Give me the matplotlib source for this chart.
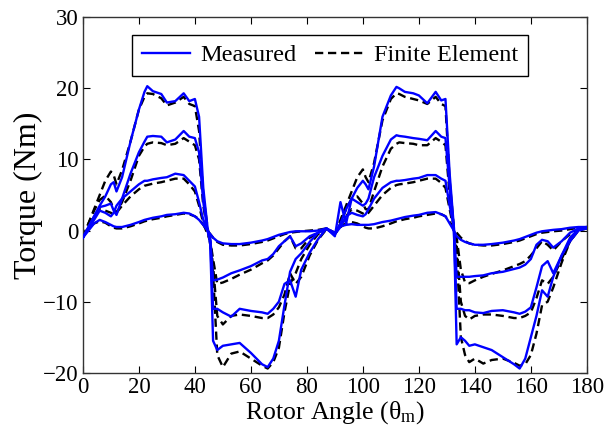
import matplotlib
matplotlib.use("Agg")
from matplotlib import pyplot as plt

# rotor angle grid (deg), two electrical periods
theta = [0, 2, 4, 6, 8, 10, 11, 12, 14, 17, 20, 22, 23, 25, 28, 30, 33, 36, 38, 40,
         41.5, 43, 44.5, 45.5, 46.5, 48, 50, 53, 56, 60, 64, 66, 68, 70, 72, 74, 76, 78, 81, 84, 87,
         90, 92, 94, 96, 98, 100, 101, 102, 104, 107, 110, 112, 113, 115, 118, 120, 123, 126, 128,
         129.5, 131, 132.5, 133.5, 135, 136.5, 138, 140, 143, 146, 150, 154, 156, 158, 160, 162,
         164, 166, 168, 171, 174, 177, 180]

# measured torque (Nm), largest to smallest current
meas_a = [-1.0, 0.5, 2.0, 3.5, 4.8, 6.5, 6.8, 5.5, 7.5, 12.5, 17.0, 19.5, 20.3, 19.6, 19.2, 18.0, 18.2, 19.3, 18.2, 18.5,
          16.0, 6.0, 0.5, -2.0, -15.5, -16.8, -16.2, -16.0, -15.8, -17.2, -18.8, -19.2, -18.0, -15.5, -10.5, -5.8, -4.0, -3.2, -1.6, -0.3, 0.3,
          -0.5, 1.0, 3.0, 4.5, 6.0, 7.0, 6.5, 5.8, 9.0, 16.0, 19.0, 20.2, 20.0, 19.5, 19.3, 19.0, 17.9, 19.5, 18.3,
          18.5, 8.0, 0.5, -16.0, -15.0, -15.5, -16.2, -16.0, -16.4, -16.8, -17.8, -18.8, -19.4, -18.0, -15.0, -12.0,
          -8.4, -9.3, -6.5, -3.5, -1.0, 0.2, 0.5]
meas_b = [-1.0, 0.5, 2.0, 3.3, 3.5, 3.8, 2.8, 2.2, 4.5, 8.0, 11.0, 12.5, 13.2, 13.3, 13.2, 12.4, 12.8, 14.0, 13.2, 13.0,
          11.0, 4.0, 0.0, -1.5, -11.0, -11.0, -11.5, -12.1, -11.0, -11.3, -11.5, -11.7, -11.0, -10.0, -7.5, -7.0, -9.3, -5.5, -3.1, -1.2, 0.3,
          -0.8, 4.0, 1.0, 4.5, 4.0, 3.5, 3.8, 4.5, 7.5, 10.5, 12.8, 13.4, 13.3, 13.2, 13.0, 12.9, 12.7, 14.0, 13.2,
          13.0, 6.0, 0.0, -11.0, -11.0, -11.2, -11.2, -11.5, -11.6, -11.3, -11.2, -11.5, -11.7, -11.4, -10.8, -8.0,
          -5.0, -4.3, -6.0, -3.5, -1.5, 0.0, 0.3]
meas_c = [-1.0, 0.3, 1.5, 2.8, 2.5, 2.0, 2.5, 3.5, 4.5, 5.5, 6.5, 7.0, 7.0, 7.2, 7.4, 7.5, 8.0, 7.8, 7.0, 6.2,
          4.0, 1.5, 0.0, -1.0, -7.0, -6.9, -6.6, -6.0, -5.6, -5.0, -4.2, -4.0, -3.3, -2.2, -1.5, -0.8, -2.2, -1.8, -0.8, -0.3, 0.2,
          -0.5, 0.5, 2.0, 2.5, 2.2, 2.0, 2.3, 3.0, 4.5, 6.0, 6.8, 7.0, 7.0, 7.1, 7.3, 7.4, 7.8, 7.8, 7.3,
          7.0, 3.5, 0.5, -6.5, -6.5, -6.5, -6.5, -6.4, -6.3, -6.0, -5.8, -5.4, -5.2, -4.8, -4.0, -2.0,
          -1.3, -1.5, -2.4, -1.5, -0.3, 0.3, 0.3]
meas_d = [-1.0, 0.0, 1.0, 1.5, 1.2, 0.8, 0.6, 0.5, 0.5, 0.8, 1.2, 1.5, 1.6, 1.8, 2.0, 2.2, 2.3, 2.5, 2.4, 2.0,
          1.5, 0.8, 0.0, -0.5, -1.0, -1.5, -1.8, -1.9, -1.9, -1.7, -1.4, -1.2, -0.9, -0.6, -0.4, -0.2, -0.1, -0.1, -0.1, 0.0, 0.3,
          -0.3, 0.6, 0.8, 0.9, 0.8, 0.8, 0.8, 0.8, 0.9, 1.2, 1.4, 1.6, 1.7, 1.9, 2.1, 2.2, 2.5, 2.6, 2.3,
          2.0, 1.0, 0.0, -0.8, -1.3, -1.6, -1.8, -2.0, -2.0, -1.9, -1.7, -1.4, -1.2, -0.9, -0.6, -0.3,
          -0.1, 0.0, 0.1, 0.2, 0.4, 0.5, 0.5]

# finite element torque (Nm)
fe_a = [-1.0, 1.0, 3.0, 5.0, 7.0, 8.3, 7.8, 6.5, 8.5, 12.5, 17.0, 18.8, 19.3, 19.2, 18.6, 17.6, 18.0, 18.8, 17.8, 17.5,
        14.0, 5.0, 0.5, -2.0, -6.0, -17.5, -19.2, -17.3, -17.0, -18.0, -19.0, -19.4, -18.5, -16.5, -11.5, -7.5, -6.0, -4.0, -2.0, -0.5, 0.3,
        -0.5, 1.5, 3.5, 5.5, 7.5, 8.6, 7.5, 6.8, 9.5, 15.5, 18.5, 19.3, 19.2, 18.8, 18.5, 18.3, 17.8, 18.8, 17.8,
        17.5, 7.0, 0.5, -3.0, -15.0, -17.5, -18.5, -18.0, -18.7, -18.2, -18.0, -18.6, -19.0, -18.8, -17.5, -14.5,
        -10.5, -10.0, -8.0, -4.5, -1.5, 0.2, 0.5]
fe_b = [-1.0, 1.0, 2.8, 4.3, 4.9, 4.0, 3.0, 2.5, 4.0, 7.0, 10.5, 11.8, 12.2, 12.4, 12.3, 12.0, 12.2, 13.0, 12.5, 12.0,
        10.0, 3.5, 0.0, -1.5, -5.0, -12.0, -13.2, -12.0, -11.8, -12.0, -12.3, -12.3, -11.8, -10.8, -9.0, -6.0, -7.5, -6.5, -3.5, -1.3, 0.2,
        -0.5, 1.0, 3.0, 4.5, 4.8, 3.8, 3.0, 3.0, 5.5, 9.0, 11.5, 12.2, 12.4, 12.3, 12.2, 12.0, 12.0, 13.0, 12.5,
        12.0, 5.0, 0.0, -2.0, -10.0, -12.0, -12.5, -12.0, -11.8, -11.8, -12.0, -12.3, -12.3, -12.0, -11.5, -9.5,
        -7.0, -7.5, -6.5, -4.0, -1.5, 0.0, 0.3]
fe_c = [-1.0, 0.5, 2.0, 3.0, 2.8, 2.5, 2.2, 2.5, 3.5, 4.8, 5.8, 6.3, 6.4, 6.6, 6.8, 7.0, 7.3, 7.3, 6.5, 5.5,
        3.5, 1.0, -0.5, -1.5, -4.0, -7.5, -7.3, -6.8, -6.2, -5.5, -4.6, -4.2, -3.5, -2.5, -1.5, -0.8, -2.5, -2.5, -1.0, -0.3, 0.2,
        -0.5, 0.5, 2.0, 3.0, 2.8, 2.4, 2.2, 2.5, 3.5, 5.0, 6.0, 6.4, 6.5, 6.6, 6.8, 7.0, 7.3, 7.3, 6.7,
        6.0, 3.0, 0.0, -1.0, -5.5, -7.3, -7.4, -7.0, -6.5, -6.1, -5.6, -5.0, -4.7, -4.3, -3.5, -2.5,
        -1.5, -2.0, -2.8, -1.5, -0.5, 0.2, 0.3]
fe_d = [-0.8, 0.3, 1.0, 1.3, 1.1, 0.6, 0.4, 0.3, 0.3, 0.6, 1.0, 1.3, 1.4, 1.6, 1.8, 2.0, 2.2, 2.4, 2.3, 2.0,
        1.6, 0.8, 0.0, -0.5, -1.0, -1.6, -2.0, -2.1, -2.1, -1.9, -1.6, -1.4, -1.1, -0.8, -0.5, -0.3, -0.2, -0.1, 0.0, 0.1, 0.3,
        -0.3, 0.5, 1.0, 1.2, 1.0, 0.6, 0.4, 0.3, 0.3, 0.6, 1.0, 1.3, 1.4, 1.6, 1.8, 2.0, 2.2, 2.4, 2.3,
        2.0, 1.2, 0.2, -0.3, -1.0, -1.5, -1.8, -2.0, -2.1, -2.1, -1.9, -1.6, -1.4, -1.1, -0.8, -0.5,
        -0.3, -0.2, -0.1, 0.0, 0.2, 0.4, 0.5]

x_ticks = [0, 20, 40, 60, 80, 100, 120, 140, 160, 180]
y_ticks = [-20, -10, 0, 10, 20, 30]

plt.rcParams["font.family"] = ["Liberation Serif", "DejaVu Serif"]
plt.rcParams["mathtext.fontset"] = "custom"
plt.rcParams["mathtext.rm"] = "Liberation Serif"
plt.rcParams["mathtext.it"] = "Liberation Serif:italic"

fig = plt.figure(figsize=(6.05, 4.3), dpi=100)
ax = fig.add_axes([0.137, 0.133, 0.833, 0.827])

for i, (m, f) in enumerate(zip([meas_a, meas_b, meas_c, meas_d], [fe_a, fe_b, fe_c, fe_d])):
    ax.plot(theta, m, color="#0000ff", lw=1.7, label="Measured" if i == 0 else None, zorder=3)
    ax.plot(theta, f, color="black", lw=1.7, ls=(0, (3.5, 2)), label="Finite Element" if i == 0 else None, zorder=2)

ax.set_xlim(0, 180)
ax.set_ylim(-20, 30)
ax.set_xticks(x_ticks)
ax.set_yticks(y_ticks)
ax.tick_params(direction="in", top=True, right=True, length=5, labelsize=16.5)
ax.tick_params(axis="x", pad=3)
ax.tick_params(axis="y", pad=3)
for s in ax.spines.values():
    s.set_linewidth(1.0)
    s.set_color("#333333")

ax.set_xlabel(r"Rotor Angle ($\mathrm{\theta_m}$)", fontsize=18.5, labelpad=1)
ax.set_ylabel("Torque (Nm)", fontsize=23, labelpad=0)

leg = ax.legend(loc="upper center", ncol=2, fontsize=17.5, handlelength=2.0, columnspacing=0.8,
                handletextpad=0.4, fancybox=False, framealpha=1, borderpad=0.4,
                bbox_to_anchor=(0.49, 0.985))
leg.get_frame().set_edgecolor("black")
leg.get_frame().set_linewidth(1.0)

plt.savefig("out.png", dpi=100)
plt.close()
